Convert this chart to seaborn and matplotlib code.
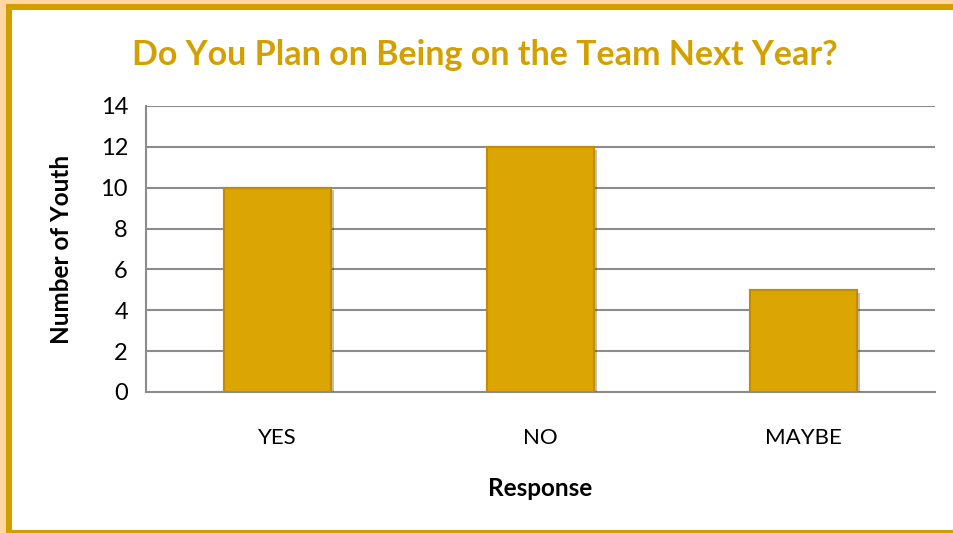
import matplotlib
matplotlib.use("Agg")
import matplotlib.pyplot as plt
import matplotlib.patheffects as pe
from matplotlib.patches import Rectangle
import seaborn as sns
import pandas as pd

categories = ["YES", "NO", "MAYBE"]
counts = [10, 12, 5]
yticks = [0, 2, 4, 6, 8, 10, 12, 14]

title = "Do You Plan on Being on the Team Next Year?"
xlabel = "Response"
ylabel = "Number of Youth"

sns.set_theme(style="white")
plt.rcParams['font.family'] = ['Lato', 'DejaVu Sans']

W, H = 954, 533
fig = plt.figure(figsize=(W / 100, H / 100), dpi=100)
fig.patch.set_facecolor("white")

def px_rect(x0, y0, x1, y1, color):
    fig.patches.append(Rectangle((x0 / W, 1 - y1 / H), (x1 - x0) / W, (y1 - y0) / H,
                                 transform=fig.transFigure, facecolor=color,
                                 edgecolor="none", zorder=-10))

peach = "#FFD7A3"
gold = "#D29E00"
px_rect(0, 0, 6, H, peach)
px_rect(0, 0, W, 4, peach)
px_rect(6, 4, 12, H, gold)
px_rect(6, 4, W, 10, gold)
px_rect(6, 530, W, H, gold)

ax = fig.add_axes([146 / W, 1 - 392 / H, (935 - 146) / W, (392 - 106) / H])
df = pd.DataFrame({"Response": categories, "Count": counts})
sns.barplot(data=df, x="Response", y="Count", ax=ax, color="#DBA503", saturation=1,
            width=0.41, edgecolor="#C28C00", linewidth=1.5, zorder=3)
for p in ax.patches:
    p.set_path_effects([pe.withSimplePatchShadow(offset=(2, -2), alpha=0.3), pe.Normal()])

ax.set_ylim(0, 14)
ax.set_yticks(yticks)
ax.set_yticklabels([str(t) for t in yticks])
ax.tick_params(axis="x", length=0, labelsize=16, labelcolor="black", pad=26)
ax.tick_params(axis="y", length=7, width=1.5, color="#8C8C8C", direction="out", pad=6,
               labelsize=17, labelcolor="black")
ax.yaxis.grid(True, color="#8C8C8C", linewidth=1.5, zorder=0)
ax.set_axisbelow(True)
for s in ["top", "right"]:
    ax.spines[s].set_visible(False)
for s in ["left", "bottom"]:
    ax.spines[s].set_color("#8C8C8C")
    ax.spines[s].set_linewidth(1.5)

ax.set_xlabel(xlabel, fontsize=17.5, fontweight="bold", color="black", labelpad=21)
ax.set_ylabel(ylabel, fontsize=17.5, fontweight="bold", color="black", labelpad=20)

fig.text(485 / W, 1 - 55 / H, title, ha="center", va="center", fontsize=24.5,
         fontweight="bold", color="#D4A000")

fig.savefig("out.png", dpi=100)
